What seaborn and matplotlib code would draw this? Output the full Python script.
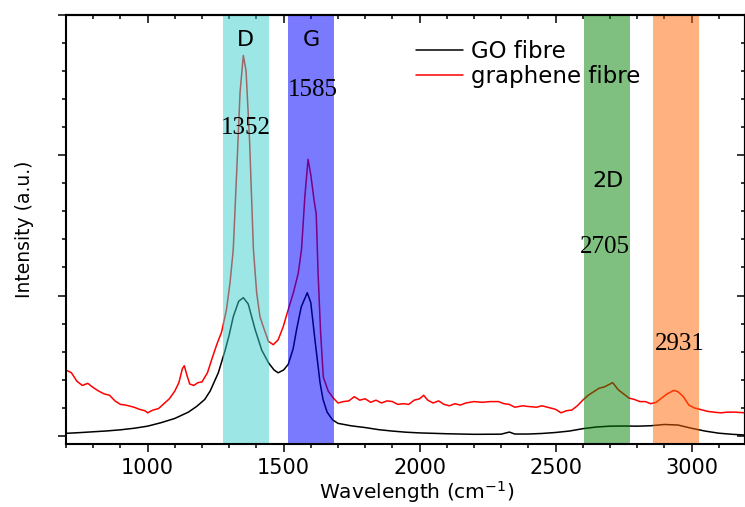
import numpy as np
import pandas as pd
import matplotlib
matplotlib.use("Agg")
import matplotlib.pyplot as plt
from matplotlib.ticker import MultipleLocator, NullFormatter
from matplotlib.lines import Line2D
import seaborn as sns

# ---------------- data ----------------
go_x = [700, 750, 800, 850, 900, 950, 1000, 1050, 1100, 1150, 1180, 1210, 1230, 1260,
        1285, 1300, 1315, 1335, 1352, 1370, 1395, 1420, 1445, 1465, 1480, 1500, 1517,
        1535, 1548, 1565, 1587, 1600, 1615, 1634, 1645, 1660, 1680, 1700, 1750, 1800,
        1850, 1900, 1950, 2000, 2100, 2200, 2300, 2330, 2350, 2400, 2450, 2500, 2550,
        2600, 2650, 2700, 2750, 2800, 2850, 2900, 2950, 3000, 3050, 3100, 3150, 3195]
go_y = [0.019, 0.024, 0.030, 0.036, 0.044, 0.055, 0.070, 0.095, 0.125, 0.17, 0.21,
        0.26, 0.32, 0.45, 0.61, 0.72, 0.85, 0.96, 0.985, 0.94, 0.76, 0.61, 0.52, 0.47,
        0.45, 0.47, 0.51, 0.62, 0.76, 0.92, 1.02, 0.95, 0.69, 0.38, 0.26, 0.17, 0.115,
        0.09, 0.072, 0.060, 0.045, 0.035, 0.027, 0.022, 0.016, 0.012, 0.013, 0.028,
        0.014, 0.014, 0.018, 0.025, 0.035, 0.052, 0.064, 0.070, 0.071, 0.070, 0.073,
        0.082, 0.078, 0.055, 0.035, 0.020, 0.012, 0.007]

gr_x = [700, 720, 740, 760, 780, 800, 820, 840, 860, 880, 900, 920, 950, 970, 990, 1000,
        1020, 1040, 1060, 1080, 1100, 1115, 1128, 1135, 1145, 1155, 1170, 1185, 1200,
        1220, 1240, 1256, 1272, 1290, 1303, 1315, 1328, 1340, 1352, 1362, 1375, 1389,
        1401, 1413, 1425, 1444, 1462, 1480, 1499, 1517, 1536, 1554, 1566, 1578,
        1590, 1600, 1612, 1620, 1627, 1636, 1646, 1664, 1683, 1700, 1720, 1740, 1760,
        1780, 1800, 1820, 1840, 1860, 1880, 1900, 1920, 1940, 1960, 1980, 2000, 2015,
        2030, 2050, 2070, 2090, 2110, 2130, 2150, 2170, 2200, 2230, 2260, 2290, 2310,
        2330, 2350, 2380, 2400, 2430, 2450, 2480, 2500, 2520, 2540, 2560, 2580, 2600,
        2620, 2640, 2660, 2680, 2700, 2710, 2730, 2750, 2770, 2790, 2810, 2830, 2850,
        2870, 2890, 2910, 2935, 2950, 2970, 2990, 3010, 3030, 3060, 3090, 3110, 3130,
        3160, 3195]
gr_y = [0.47, 0.45, 0.39, 0.36, 0.375, 0.345, 0.32, 0.30, 0.29, 0.25, 0.225, 0.22, 0.205,
        0.19, 0.18, 0.165, 0.185, 0.195, 0.23, 0.265, 0.32, 0.38, 0.48, 0.50, 0.43, 0.37,
        0.36, 0.38, 0.385, 0.45, 0.57, 0.66, 0.74, 0.90, 1.09, 1.33, 1.90, 2.45, 2.71,
        2.60, 2.10, 1.33, 1.02, 0.85, 0.78, 0.675, 0.65, 0.685, 0.78, 0.90, 1.02, 1.16,
        1.33, 1.70, 1.97, 1.86, 1.68, 1.58, 1.15, 0.74, 0.42, 0.32, 0.27, 0.235,
        0.245, 0.25, 0.28, 0.255, 0.265, 0.24, 0.255, 0.235, 0.25, 0.245, 0.225, 0.23,
        0.225, 0.255, 0.265, 0.29, 0.255, 0.235, 0.25, 0.225, 0.215, 0.23, 0.22, 0.235,
        0.245, 0.24, 0.245, 0.245, 0.23, 0.225, 0.205, 0.215, 0.21, 0.205, 0.215, 0.20,
        0.19, 0.165, 0.18, 0.185, 0.215, 0.255, 0.29, 0.315, 0.34, 0.35, 0.37, 0.38,
        0.33, 0.30, 0.27, 0.26, 0.245, 0.245, 0.23, 0.24, 0.27, 0.30, 0.325, 0.315, 0.28,
        0.22, 0.20, 0.19, 0.175, 0.168, 0.165, 0.17, 0.17, 0.165]

series_names = ["GO fibre", "graphene fibre"]
series_colors = ["black", "red"]

band_names = ["D", "G", "2D", "CH"]
band_lo = [1276, 1516, 2605, 2859]
band_hi = [1446, 1685, 2772, 3026]
band_colors = ["#3CCFCF", "#0000FF", "#008000", "#FF6600"]

peak_labels = ["D", "G", "2D"]
peak_label_x = [1361, 1601, 2691]
peak_label_y = [2.775, 2.775, 1.776]

peak_nums = ["1352", "1585", "2705", "2931"]
peak_num_x = [1361, 1607, 2683, 2958]
peak_num_y = [2.15, 2.424, 1.305, 0.614]

# ---------------- figure ----------------
sns.set_style("ticks")
plt.rcParams["font.family"] = ["DejaVu Sans"]
for k in ["text.color", "axes.labelcolor", "xtick.color", "ytick.color", "axes.edgecolor"]:
    plt.rcParams[k] = "black"

W, H = 745, 507
fig = plt.figure(figsize=(W / 100, H / 100), dpi=100)
ax_l, ax_r, ax_t, ax_b = 66, 744.6, 14.7, 444
ax = fig.add_axes([ax_l / W, (H - ax_b) / H, (ax_r - ax_l) / W, (ax_b - ax_t) / H])

df = pd.concat([
    pd.DataFrame({"x": go_x, "y": go_y, "s": series_names[0]}),
    pd.DataFrame({"x": gr_x, "y": gr_y, "s": series_names[1]}),
])
sns.lineplot(data=df, x="x", y="y", hue="s", palette=series_colors, sort=False,
             linewidth=1.1, ax=ax, legend=False, zorder=2)

alphas = [0.5, 0.52, 0.5, 0.5]
for lo, hi, c, a in zip(band_lo, band_hi, band_colors, alphas):
    ax.axvspan(lo, hi, color=c, alpha=a, lw=0, zorder=3)

ax.set_xlim(700, 3195)
ax.set_ylim(-0.057, 3.0)

for t, x, y in zip(peak_labels, peak_label_x, peak_label_y):
    ax.text(x, y, t, ha="center", va="baseline", fontsize=16, zorder=5)
for t, x, y in zip(peak_nums, peak_num_x, peak_num_y):
    ax.text(x, y, t, ha="center", va="baseline", fontsize=18,
            family=["Liberation Serif"], zorder=5)

handles = [Line2D([], [], color=c, lw=1.1) for c in series_colors]
leg = ax.legend(handles, series_names, loc="upper left",
                bbox_to_anchor=((416 - ax_l) / (ax_r - ax_l), 0.942),
                frameon=False, fontsize=16.5, borderpad=0, borderaxespad=0,
                handlelength=2.07, handletextpad=0.33, labelspacing=0.12)
leg.set_zorder(6)

# axes styling
for sp in ax.spines.values():
    sp.set_linewidth(1.5)
    sp.set_visible(True)
    sp.set_zorder(7)

ax.xaxis.set_major_locator(MultipleLocator(500))
ax.xaxis.set_minor_locator(MultipleLocator(100))
ax.yaxis.set_major_locator(MultipleLocator(1))
ax.yaxis.set_minor_locator(MultipleLocator(0.2))
ax.yaxis.set_major_formatter(NullFormatter())
ax.tick_params(axis="both", which="major", direction="out", length=6, width=1.1,
               labelsize=15, pad=4)
ax.tick_params(axis="both", which="minor", direction="out", length=3.2, width=1.1)
ax.tick_params(top=False, right=False)

secx = ax.secondary_xaxis("top")
secx.xaxis.set_major_locator(MultipleLocator(500))
secx.xaxis.set_minor_locator(MultipleLocator(100))
secx.tick_params(which="major", direction="in", length=6, width=1.1, labeltop=False)
secx.tick_params(which="minor", direction="in", length=3.2, width=1.1)
secx.spines["top"].set_linewidth(1.5)

secy = ax.secondary_yaxis("right")
secy.yaxis.set_major_locator(MultipleLocator(1))
secy.yaxis.set_minor_locator(MultipleLocator(0.2))
secy.tick_params(which="major", direction="in", length=6, width=1.1, labelright=False)
secy.tick_params(which="minor", direction="in", length=3.2, width=1.1)
secy.spines["right"].set_linewidth(1.5)

ax.set_xlabel("Wavelength (cm$^{-1}$)", fontsize=14.5)
ax.xaxis.set_label_coords((417 - ax_l) / (ax_r - ax_l), (ax_b - 479) / (ax_b - ax_t))
ax.set_ylabel("Intensity (a.u.)", fontsize=13.5)
ax.yaxis.set_label_coords((34 - ax_l) / (ax_r - ax_l), 0.5)

fig.savefig("out.png", dpi=100)
